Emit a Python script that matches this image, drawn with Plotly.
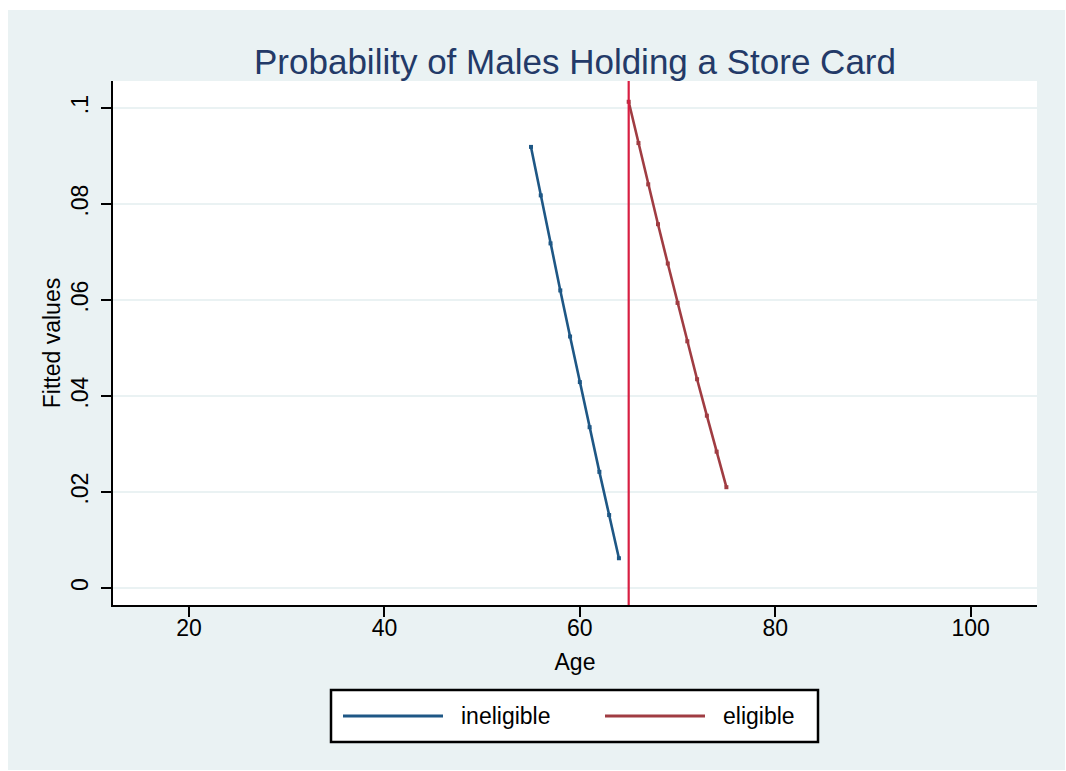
import plotly.graph_objects as go

# Fitted probabilities by age, either side of the eligibility cutoff
ages_ineligible = [55, 56, 57, 58, 59, 60, 61, 62, 63, 64]
fit_ineligible = [0.0919, 0.0818, 0.0718, 0.0620, 0.0524, 0.0429, 0.0335, 0.0242, 0.0152, 0.0062]

ages_eligible = [65, 66, 67, 68, 69, 70, 71, 72, 73, 74, 75]
fit_eligible = [0.1013, 0.0927, 0.0841, 0.0758, 0.0676, 0.0594, 0.0514, 0.0435, 0.0359, 0.0284, 0.0210]

cutoff_age = 65

series_names = ["ineligible", "eligible"]

x_ticks = [20, 40, 60, 80, 100]
y_ticks = [0, 0.02, 0.04, 0.06, 0.08, 0.1]
y_tick_labels = ["0", ".02", ".04", ".06", ".08", ".1"]

BG = "#eaf2f3"
NAVY = "#1e5785"
MAROON = "#a03c42"
CUTOFF = "#d81f42"
FONT = "Liberation Sans, Arial, Helvetica, sans-serif"

# plot-area geometry in pixels, used to place the key below the axes
L, R, T, B = 113, 29, 81, 166
W, H = 1066, 771
PW, PH = W - L - R, H - T - B


def px_x(px):
    return (px - L) / PW


def px_y(py):
    return (H - B - py) / PH


fig = go.Figure()

series = [
    (ages_ineligible, fit_ineligible, NAVY, series_names[0]),
    (ages_eligible, fit_eligible, MAROON, series_names[1]),
]
for xs, ys, color, name in series:
    fig.add_trace(go.Scatter(
        x=xs, y=ys, name=name, mode="lines",
        line=dict(color=color, width=2.6), showlegend=False,
    ))
    fig.add_trace(go.Scatter(
        x=xs, y=ys, name=name, mode="markers",
        marker=dict(symbol="square", size=4, color=color), showlegend=False,
    ))

# cutoff reference line
fig.add_vline(x=cutoff_age, line=dict(color=CUTOFF, width=2.2), layer="above")

# graph region background (slightly inset from the page) and white plot region
fig.add_shape(type="rect", xref="paper", yref="paper",
              x0=px_x(8), x1=px_x(1065), y0=px_y(770), y1=px_y(10),
              fillcolor=BG, line=dict(width=0), layer="below")
fig.add_shape(type="rect", xref="x domain", yref="y domain",
              x0=0, x1=1, y0=0, y1=1,
              fillcolor="white", line=dict(width=0), layer="below")

# key box with line samples and labels
fig.add_shape(type="rect", xref="paper", yref="paper",
              x0=px_x(331), x1=px_x(818), y0=px_y(742), y1=px_y(690),
              fillcolor="white", line=dict(color="black", width=2.5))
key_y = px_y(716)
for (sx0, sx1, tx), (_, _, color, name) in zip([(343, 443, 459), (605, 705, 721)], series):
    fig.add_shape(type="line", xref="paper", yref="paper",
                  x0=px_x(sx0), x1=px_x(sx1), y0=key_y, y1=key_y,
                  line=dict(color=color, width=2.8))
    fig.add_annotation(xref="paper", yref="paper", x=px_x(tx), y=key_y,
                       text=name, showarrow=False, xanchor="left", yanchor="middle",
                       font=dict(family=FONT, size=23, color="black"))

fig.update_layout(
    width=W, height=H,
    margin=dict(l=L, r=R, t=T, b=B),
    paper_bgcolor="white",
    plot_bgcolor="white",
    font=dict(family=FONT, size=23, color="black"),
    title=dict(
        text="Probability of Males Holding a Store Card",
        font=dict(family=FONT, size=35, color="#233a68"),
        x=0.5, xref="paper", xanchor="center",
        y=1 - 62 / H, yref="container", yanchor="middle",
    ),
    showlegend=False,
    xaxis=dict(
        range=[12.22, 106.79],
        tickvals=x_ticks,
        ticks="outside", ticklen=10, tickwidth=2, tickcolor="black",
        showline=True, linecolor="black", linewidth=2,
        showgrid=False, zeroline=False,
        ticklabelstandoff=-9,
        title=dict(text="Age", font=dict(family=FONT, size=23), standoff=14),
        tickfont=dict(family=FONT, size=23),
    ),
    yaxis=dict(
        range=[-0.00354, 0.10563],
        tickvals=y_ticks, ticktext=y_tick_labels,
        tickangle=-90,
        ticks="outside", ticklen=10, tickwidth=2, tickcolor="black",
        showline=True, linecolor="black", linewidth=2,
        showgrid=True, gridcolor=BG, gridwidth=2,
        zeroline=False,
        ticklabelstandoff=4,
        title=dict(text="Fitted values", font=dict(family=FONT, size=23), standoff=0),
        tickfont=dict(family=FONT, size=23),
    ),
)

fig.write_html("out.html")
